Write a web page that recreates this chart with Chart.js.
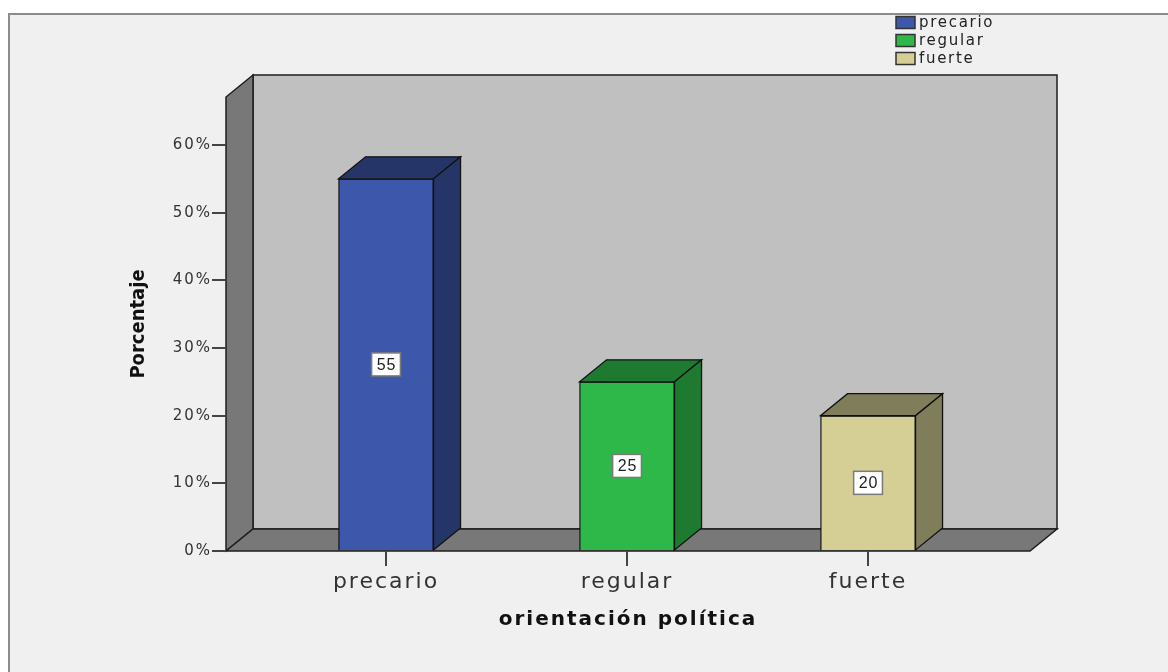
<!DOCTYPE html>
<html><head><meta charset="utf-8">
<script src="https://cdn.jsdelivr.net/npm/chart.js@4.4.0/dist/chart.umd.min.js"></script>
<style>html,body{margin:0;padding:0;background:#fff;overflow:hidden}canvas{display:block}</style>
</head><body>
<canvas id="c" width="1168" height="672"></canvas>
<script>
// ---- data ----
const categories = ['precario', 'regular', 'fuerte'];
const values = [55, 25, 20];
const yTickValues = [0, 10, 20, 30, 40, 50, 60];
const yMax = 67.1;
const xTitle = 'orientación política';
const yTitle = 'Porcentaje';
// ---- styles ----
const frontColors = ['#3d57aa', '#2eb84a', '#d5cf95'];
const shadeColors = ['#253568', '#1f7a31', '#807d5b'];
const DX = 27, DY = -22;

function poly(ctx, pts, fill) {
  ctx.beginPath();
  ctx.moveTo(pts[0][0], pts[0][1]);
  for (let i = 1; i < pts.length; i++) ctx.lineTo(pts[i][0], pts[i][1]);
  ctx.closePath();
  ctx.fillStyle = fill; ctx.fill(); ctx.stroke();
}

const spss3d = {
  id: 'spss3d',
  beforeDraw(chart) {
    const ctx = chart.ctx;
    const {left, right, top, bottom} = chart.chartArea;
    ctx.letterSpacing = '0px';
    ctx.save();
    ctx.fillStyle = '#fff'; ctx.fillRect(0, 0, chart.width, chart.height);
    ctx.fillStyle = '#f0f0f0'; ctx.fillRect(9, 14, chart.width, chart.height);
    ctx.strokeStyle = '#8c8c8c'; ctx.lineWidth = 2;
    ctx.strokeRect(9, 14, chart.width + 20, chart.height + 20);
    ctx.lineWidth = 1.5; ctx.strokeStyle = '#1e1e1e'; ctx.lineJoin = 'miter';
    poly(ctx, [[left + DX, top + DY], [right + DX, top + DY], [right + DX, bottom + DY], [left + DX, bottom + DY]], '#c0c0c0');
    poly(ctx, [[left, bottom], [left, top], [left + DX, top + DY], [left + DX, bottom + DY]], '#787878');
    poly(ctx, [[left, bottom], [right, bottom], [right + DX, bottom + DY], [left + DX, bottom + DY]], '#787878');
    ctx.restore();
  },
  afterDatasetsDraw(chart) {
    const ctx = chart.ctx;
    const meta = chart.getDatasetMeta(0);
    ctx.save();
    ctx.letterSpacing = '0px';
    meta.data.forEach((bar, i) => {
      const {x, y, width, base} = bar.getProps(['x', 'y', 'width', 'base'], true);
      const x0 = x - width / 2, x1 = x + width / 2;
      ctx.lineWidth = 1.3; ctx.strokeStyle = '#111'; ctx.lineJoin = 'miter';
      poly(ctx, [[x0, y], [x1, y], [x1 + DX, y + DY], [x0 + DX, y + DY]], shadeColors[i]);
      poly(ctx, [[x1, y], [x1, base], [x1 + DX, base + DY], [x1 + DX, y + DY]], shadeColors[i]);
      const cy = (y + base) / 2;
      const txt = String(values[i]);
      ctx.font = '16px "Liberation Sans", Arial, sans-serif';
      ctx.letterSpacing = '1px';
      const tw = ctx.measureText(txt).width;
      const bw = tw + 9, bh = 23;
      ctx.fillStyle = '#fff'; ctx.fillRect(x - bw / 2, cy - bh / 2, bw, bh);
      ctx.strokeStyle = '#7a7a7a'; ctx.lineWidth = 1.5; ctx.strokeRect(x - bw / 2, cy - bh / 2, bw, bh);
      ctx.fillStyle = '#222'; ctx.textAlign = 'center'; ctx.textBaseline = 'middle';
      ctx.fillText(txt, x + 0.5, cy + 1);
    });
    ctx.restore();
    ctx.letterSpacing = '2px';
  },
  afterDraw(chart) {
    const ctx = chart.ctx;
    ctx.save();
    ctx.letterSpacing = '1.7px';
    categories.forEach((c, i) => {
      const yy = 22.5 + i * 18;
      ctx.fillStyle = frontColors[i];
      ctx.fillRect(896, yy - 6, 19, 12);
      ctx.strokeStyle = '#333'; ctx.lineWidth = 1.5;
      ctx.strokeRect(896, yy - 6, 19, 12);
      ctx.fillStyle = '#222';
      ctx.font = '15px "DejaVu Sans", sans-serif';
      ctx.textAlign = 'left'; ctx.textBaseline = 'middle';
      ctx.fillText(c, 919, yy + 0.5);
    });
    ctx.restore();
    ctx.letterSpacing = '0px';
  }
};

new Chart(document.getElementById('c'), {
  type: 'bar',
  data: {
    datasets: [{
      data: categories.map((c, i) => ({x: i, y: values[i]})),
      backgroundColor: frontColors,
      borderColor: '#111',
      borderWidth: 1.3,
      barThickness: 95
    }]
  },
  options: {
    responsive: false,
    animation: false,
    devicePixelRatio: 1,
    layout: {padding: {top: 97, right: 138, bottom: 0, left: 0}},
    plugins: {legend: {display: false}, tooltip: {enabled: false}},
    scales: {
      x: {
        type: 'linear',
        offset: false,
        min: -0.664, max: 2.672,
        afterBuildTicks: (s) => { s.ticks = categories.map((c, i) => ({value: i})); },
        afterFit: (s) => { s.height = 121; },
        grid: {display: true, offset: false, drawOnChartArea: false, drawTicks: true, tickLength: 15, color: '#444', lineWidth: 2, z: 1},
        border: {display: false},
        ticks: {
          z: 1,
          padding: 3,
          color: '#333',
          font: {family: '"DejaVu Sans", sans-serif', size: 22},
          callback: (v) => categories[v] ?? ''
        },
        title: {
          display: true, text: xTitle, color: '#111',
          font: {family: '"DejaVu Sans", sans-serif', size: 20, weight: 'bold'},
          padding: {top: 0, bottom: 40}
        }
      },
      y: {
        min: 0, max: yMax,
        afterBuildTicks: (s) => { s.ticks = yTickValues.map(v => ({value: v})); },
        afterFit: (s) => { s.width = 226; },
        grid: {display: true, drawOnChartArea: false, drawTicks: true, tickLength: 14, color: '#444', lineWidth: 2},
        border: {display: false},
        ticks: {
          z: 1,
          padding: 0,
          color: '#333',
          font: {family: '"DejaVu Sans", sans-serif', size: 15},
          callback: (v) => v + '%'
        },
        title: {
          display: true, text: yTitle, color: '#111',
          font: {family: '"DejaVu Sans Condensed", "Liberation Sans Narrow", "Liberation Sans", sans-serif', size: 20, weight: 'bold'},
          padding: {top: 127, bottom: 0}
        }
      }
    }
  },
  plugins: [spss3d]
});
</script>
</body></html>
